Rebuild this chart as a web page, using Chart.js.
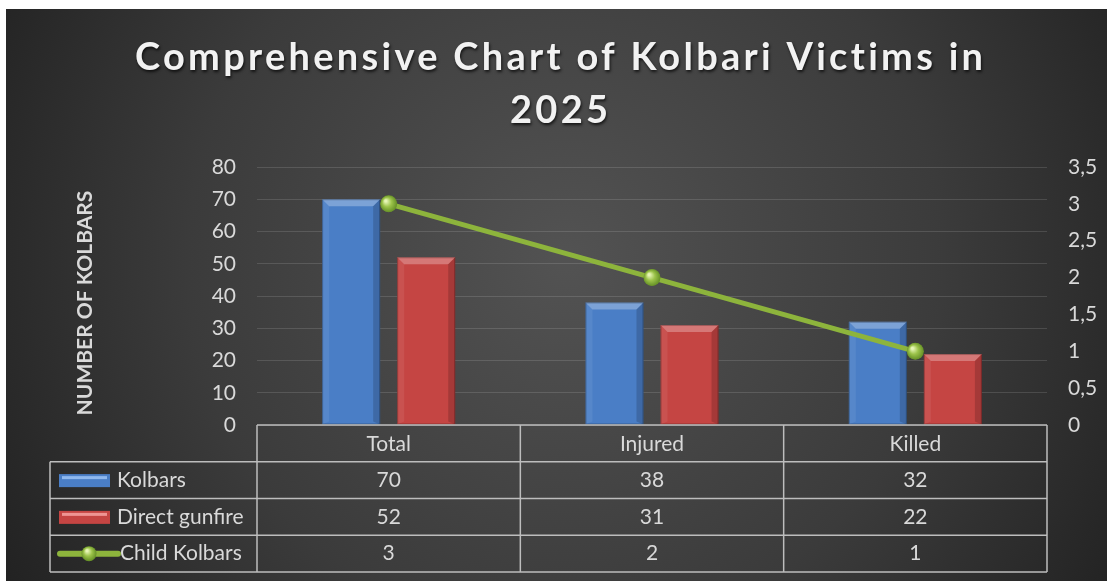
<!DOCTYPE html>
<html>
<head>
<meta charset="utf-8">
<title>Kolbari Victims 2025</title>
<script src="https://cdn.jsdelivr.net/npm/chart.js@4.4.1/dist/chart.umd.min.js"></script>
<style>
  html, body { margin: 0; padding: 0; background: #fff; }
  #wrap { position: absolute; left: 6px; top: 9px; width: 1101px; height: 572px; }
</style>
</head>
<body>
<div id="wrap"><canvas id="chart" width="1101" height="572"></canvas></div>
<script>
/************************ data *********************************/
const categories = ["Total", "Injured", "Killed"];
const kolbars = [70, 38, 32];
const directGunfire = [52, 31, 22];
const childKolbars = [3, 2, 1];
const titleLines = ["Comprehensive Chart of Kolbari Victims in", "2025"];

const FONT = "Lato";
const TEXT = "#d9d9d9";
const BLUE = "#4a7ec6";
const RED = "#c54543";
const GREEN = "#8db43c";

// dark radial background behind the whole chart
const backdrop = {
  id: "backdrop",
  beforeDraw(chart) {
    const { ctx, width, height } = chart;
    const g = ctx.createRadialGradient(560, 250, 10, 560, 250, 680);
    g.addColorStop(0, "#525252");
    g.addColorStop(0.55, "#3b3b3b");
    g.addColorStop(1, "#1f1f1f");
    ctx.save();
    ctx.fillStyle = g;
    ctx.fillRect(0, 0, width, height);
    ctx.restore();
  },
};

// title with shadow + spaced letters, and the rotated y title
const headings = {
  id: "headings",
  afterDraw(chart) {
    const { ctx, chartArea } = chart;
    ctx.save();
    ctx.font = "bold 38px " + FONT;
    ctx.textAlign = "center";
    ctx.textBaseline = "alphabetic";
    ctx.fillStyle = "#f2f2f2";
    ctx.shadowColor = "rgba(0,0,0,0.7)";
    ctx.shadowOffsetX = 1;
    ctx.shadowOffsetY = 2;
    ctx.shadowBlur = 3;
    const w0 = ctx.measureText(titleLines[0]).width;
    const sp = Math.max(0, (852 - w0) / titleLines[0].length);
    ctx.letterSpacing = sp + "px";
    ctx.fillText(titleLines[0], 553 + sp / 2, 61);
    ctx.fillText(titleLines[1], 553 + sp / 2, 114);
    ctx.letterSpacing = "0px";

    ctx.shadowColor = "transparent";
    ctx.font = "bold 21px " + FONT;
    ctx.fillStyle = TEXT;
    ctx.translate(79, (chartArea.top + chartArea.bottom) / 2 + 7);
    ctx.rotate(-Math.PI / 2);
    ctx.textBaseline = "middle";
    ctx.fillText("NUMBER OF KOLBARS", 0, 0);
    ctx.restore();
  },
};

// bevel look on the bars
const bevel = {
  id: "bevel",
  afterDatasetDraw(chart, args) {
    const meta = args.meta;
    if (meta.type !== "bar") return;
    const ctx = chart.ctx;
    ctx.save();
    meta.data.forEach(function (bar) {
      const p = bar.getProps(["x", "y", "base", "width"], true);
      const l = p.x - p.width / 2, r = p.x + p.width / 2, t = p.y, b = p.base;
      const e = 7;
      ctx.fillStyle = "rgba(255,255,255,0.28)";
      ctx.beginPath();
      ctx.moveTo(l, t); ctx.lineTo(r, t); ctx.lineTo(r - e, t + e); ctx.lineTo(l + e, t + e);
      ctx.closePath(); ctx.fill();
      ctx.fillStyle = "rgba(255,255,255,0.07)";
      ctx.beginPath();
      ctx.moveTo(l, t); ctx.lineTo(l + e, t + e); ctx.lineTo(l + e, b - 3); ctx.lineTo(l, b);
      ctx.closePath(); ctx.fill();
      ctx.fillStyle = "rgba(0,0,0,0.16)";
      ctx.beginPath();
      ctx.moveTo(r, t); ctx.lineTo(r - e, t + e); ctx.lineTo(r - e, b - 3); ctx.lineTo(r, b);
      ctx.closePath(); ctx.fill();
      ctx.strokeStyle = "rgba(0,0,0,0.25)";
      ctx.lineWidth = 1;
      ctx.strokeRect(l + 0.5, t + 0.5, p.width - 1, b - t - 1);
    });
    ctx.restore();
  },
};

// shiny highlight on the line markers
const shine = {
  id: "shine",
  afterDatasetDraw(chart, args) {
    const meta = args.meta;
    if (meta.type !== "line") return;
    const ctx = chart.ctx;
    ctx.save();
    meta.data.forEach(function (pt) {
      const g = ctx.createRadialGradient(pt.x - 3, pt.y - 3, 1, pt.x, pt.y, 9);
      g.addColorStop(0, "#e6f5b5");
      g.addColorStop(0.45, "#9cc34a");
      g.addColorStop(1, "#5f8a22");
      ctx.fillStyle = g;
      ctx.beginPath();
      ctx.arc(pt.x, pt.y, 8.5, 0, Math.PI * 2);
      ctx.fill();
    });
    ctx.restore();
  },
};

// data table under the plot
const dataTable = {
  id: "dataTable",
  afterDraw(chart) {
    const { ctx, chartArea, scales } = chart;
    const x = scales.x;
    const edges = [chartArea.left];
    for (let i = 0; i < categories.length - 1; i++) {
      edges.push((x.getPixelForValue(i) + x.getPixelForValue(i + 1)) / 2);
    }
    edges.push(chartArea.right);
    const top = chartArea.bottom;
    const rowH = 36.75;
    const legLeft = 44;
    const rows = [
      { label: "Kolbars", vals: kolbars, kind: "bar", color: BLUE, hi: "#8fb8ee" },
      { label: "Direct gunfire", vals: directGunfire, kind: "bar", color: RED, hi: "#ee9593" },
      { label: "Child Kolbars", vals: childKolbars, kind: "line", color: GREEN },
    ];

    ctx.save();
    ctx.strokeStyle = "#bdbdbd";
    ctx.lineWidth = 1.5;
    // header row
    ctx.beginPath();
    ctx.moveTo(chartArea.left, top); ctx.lineTo(chartArea.right, top);
    edges.forEach(function (ex) { ctx.moveTo(ex, top); ctx.lineTo(ex, top + rowH * 4); });
    for (let r = 1; r <= 4; r++) {
      ctx.moveTo(legLeft, top + rowH * r); ctx.lineTo(chartArea.right, top + rowH * r);
    }
    ctx.moveTo(legLeft, top + rowH); ctx.lineTo(legLeft, top + rowH * 4);
    ctx.stroke();

    ctx.font = "21px " + FONT;
    ctx.fillStyle = TEXT;
    ctx.textBaseline = "middle";
    rows.forEach(function (row, r) {
      const cy = top + rowH * (r + 1) + rowH / 2;
      // legend key
      if (row.kind === "bar") {
        ctx.fillStyle = row.color;
        ctx.fillRect(legLeft + 9, cy - 6, 51, 13);
        ctx.fillStyle = row.hi;
        ctx.fillRect(legLeft + 12, cy - 4, 45, 3);
      } else {
        ctx.strokeStyle = row.color;
        ctx.lineWidth = 6;
        ctx.lineCap = "round";
        ctx.beginPath();
        ctx.moveTo(legLeft + 10, cy); ctx.lineTo(legLeft + 68, cy);
        ctx.stroke();
        const g = ctx.createRadialGradient(legLeft + 37, cy - 3, 1, legLeft + 39, cy, 8);
        g.addColorStop(0, "#e6f5b5");
        g.addColorStop(0.45, "#9cc34a");
        g.addColorStop(1, "#5f8a22");
        ctx.fillStyle = g;
        ctx.beginPath();
        ctx.arc(legLeft + 39, cy, 7.5, 0, Math.PI * 2);
        ctx.fill();
      }
      ctx.fillStyle = TEXT;
      ctx.textAlign = "left";
      ctx.fillText(row.label, legLeft + (row.kind === "bar" ? 67 : 70), cy);
      ctx.textAlign = "center";
      row.vals.forEach(function (v, i) {
        ctx.fillText(String(v), (edges[i] + edges[i + 1]) / 2, cy);
      });
    });
    ctx.restore();
  },
};

/************************* chart ******************************/
const ctx = document.getElementById("chart").getContext("2d");
const myChart = new Chart(ctx, {
  type: "bar",
  data: {
    labels: categories,
    datasets: [
      {
        label: "Child Kolbars",
        type: "line",
        data: childKolbars,
        yAxisID: "y1",
        borderColor: GREEN,
        borderWidth: 5,
        pointRadius: 8,
        pointBackgroundColor: "#8db43c",
        pointBorderWidth: 0,
        order: 0,
      },
      {
        label: "Kolbars",
        data: kolbars,
        backgroundColor: BLUE,
        yAxisID: "y",
        categoryPercentage: 0.57,
        barPercentage: 0.773,
        order: 1,
      },
      {
        label: "Direct gunfire",
        data: directGunfire,
        backgroundColor: RED,
        yAxisID: "y",
        categoryPercentage: 0.57,
        barPercentage: 0.773,
        order: 1,
      },
    ],
  },
  options: {
    responsive: false,
    animation: false,
    locale: "de-DE",
    layout: { padding: { top: 158, right: 0, bottom: 0, left: 0 } },
    plugins: {
      legend: { display: false },
      title: { display: false },
      tooltip: { enabled: false },
    },
    scales: {
      x: {
        grid: { display: false, drawTicks: false },
        border: { display: false },
        ticks: { color: TEXT, font: { family: FONT, size: 21 }, padding: 7 },
        afterFit(scale) { scale.height = 156; },
      },
      y: {
        position: "left",
        min: 0,
        max: 80,
        ticks: { stepSize: 10, color: TEXT, font: { family: FONT, size: 21 }, padding: 21 },
        grid: { color: "rgba(255,255,255,0.13)", lineWidth: 1, drawTicks: false },
        border: { display: false },
        afterFit(scale) { scale.width = 251; },
      },
      y1: {
        position: "right",
        min: 0,
        max: 3.5,
        ticks: {
          stepSize: 0.5,
          color: TEXT,
          font: { family: FONT, size: 21 },
          padding: 21,
          callback: function (v) { return String(v).replace(".", ","); },
        },
        grid: { display: false, drawTicks: false },
        border: { display: false },
        afterFit(scale) { scale.width = 60; },
      },
    },
  },
  plugins: [backdrop, bevel, shine, headings, dataTable],
});
</script>
</body>
</html>
